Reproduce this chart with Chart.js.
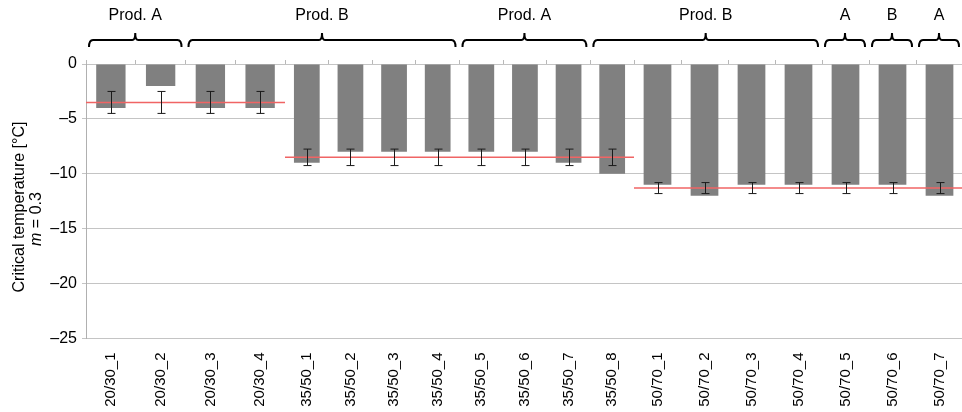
<!DOCTYPE html>
<html>
<head>
<meta charset="utf-8">
<script src="https://cdn.jsdelivr.net/npm/chart.js@4.4.1/dist/chart.umd.min.js"></script>
<style>
html, body { margin: 0; padding: 0; background: #fff; }
#wrap { position: relative; width: 962px; height: 412px; overflow: hidden; }
#wrap canvas { position: absolute; top: 0; }
</style>
</head>
<body>
<div id="wrap">
  <canvas id="p1" width="285" height="412" style="left:0"></canvas>
  <canvas id="p2" width="349" height="412" style="left:285px"></canvas>
  <canvas id="p3" width="329" height="412" style="left:634px"></canvas>
  <canvas id="over" width="962" height="412" style="left:0"></canvas>
</div>
<script>
var FONT = '"Liberation Sans", Arial, sans-serif';

// data
var labels1 = ['20/30_1', '20/30_2', '20/30_3', '20/30_4'];
var labels2 = ['35/50_1', '35/50_2', '35/50_3', '35/50_4', '35/50_5', '35/50_6', '35/50_7', '35/50_8'];
var labels3 = ['50/70_1', '50/70_2', '50/70_3', '50/70_4', '50/70_5', '50/70_6', '50/70_7'];
var values1 = [-4, -2, -4, -4];
var values2 = [-9, -8, -8, -8, -8, -8, -9, -10];
var values3 = [-11, -12, -11, -11, -11, -11, -12];
var groupMean = [-3.5, -8.5, -11.3];
var groupSd = [1, 0.75, 0.5];
var bracketText = ['Prod. A', 'Prod. B', 'Prod. A', 'Prod. B', 'A', 'B', 'A'];
var bracketFrom = ['20/30_1', '20/30_3', '35/50_5', '35/50_8', '50/70_5', '50/70_6', '50/70_7'];
var bracketTo = ['20/30_2', '35/50_4', '35/50_7', '50/70_4', '50/70_5', '50/70_6', '50/70_7'];

// red mean line + error bars per panel
var meanLines = {
  id: 'meanLines',
  afterDatasetsDraw: function (chart, args, opts) {
    var ctx = chart.ctx, a = chart.chartArea, y = chart.scales.y;
    var ym = y.getPixelForValue(opts.mean);
    var hi = y.getPixelForValue(opts.mean + opts.sd);
    var lo = y.getPixelForValue(opts.mean - opts.sd);
    ctx.save();
    ctx.strokeStyle = '#f06464';
    ctx.lineWidth = 1.5;
    ctx.beginPath();
    ctx.moveTo(a.left, ym);
    ctx.lineTo(a.right, ym);
    ctx.stroke();
    ctx.strokeStyle = '#1a1a1a';
    ctx.lineWidth = 1;
    chart.getDatasetMeta(0).data.forEach(function (bar) {
      var x = Math.round(bar.x) + 0.5;
      ctx.beginPath();
      ctx.moveTo(x, hi); ctx.lineTo(x, lo);
      ctx.moveTo(x - 4, hi); ctx.lineTo(x + 4, hi);
      ctx.moveTo(x - 4, lo); ctx.lineTo(x + 4, lo);
      ctx.stroke();
    });
    ctx.restore();
  }
};

function makePanel(id, labels, values, idx, showY) {
  return new Chart(document.getElementById(id), {
    type: 'bar',
    data: {
      labels: labels,
      datasets: [{
        data: values,
        backgroundColor: '#808080',
        barPercentage: 0.59,
        categoryPercentage: 1
      }]
    },
    options: {
      responsive: false,
      animation: false,
      layout: { padding: { top: 60, left: 0, right: 0, bottom: 0 } },
      plugins: {
        legend: { display: false },
        tooltip: { enabled: false },
        meanLines: { mean: groupMean[idx], sd: groupSd[idx] }
      },
      scales: {
        x: {
          offset: true,
          grid: { display: false },
          border: { display: false },
          ticks: {
            autoSkip: false, minRotation: 90, maxRotation: 90, padding: 6,
            color: '#000', font: { family: FONT, size: 15 }
          },
          afterFit: function (s) {
            s.height = 73.5;
            s.paddingLeft = 0;
            s.paddingRight = 0;
          }
        },
        xTop: {
          type: 'category',
          position: 'top',
          labels: labels,
          offset: true,
          grid: { offset: true, drawOnChartArea: false, tickLength: 4, color: '#b8b8b8' },
          border: { display: false },
          ticks: { display: false },
          afterFit: function (s) {
            s.height = 4;
            s.paddingLeft = 0;
            s.paddingRight = 0;
          }
        },
        y: {
          min: -25,
          max: 0,
          grid: { color: '#c4c4c4', drawTicks: showY, tickLength: 4 },
          border: { display: showY, color: '#b0b0b0' },
          ticks: {
            display: showY, stepSize: 5, padding: 5, color: '#000',
            font: { family: FONT, size: 16 },
            callback: function (v) { return v < 0 ? '\u2013' + (-v) : String(v); }
          },
          afterFit: function (s) { s.width = showY ? 86 : 0; }
        }
      }
    },
    plugins: [meanLines]
  });
}

var panels = [
  makePanel('p1', labels1, values1, 0, true),
  makePanel('p2', labels2, values2, 1, false),
  makePanel('p3', labels3, values3, 2, false)
];

// brackets and axis title on an overlay
var ov = document.getElementById('over').getContext('2d');

function catEdges(name) {
  for (var p = 0; p < panels.length; p++) {
    var i = panels[p].data.labels.indexOf(name);
    if (i >= 0) {
      var s = panels[p].scales.x;
      var half = s.width / panels[p].data.labels.length / 2;
      var c = s.getPixelForValue(i) + panels[p].canvas.offsetLeft;
      return [c - half, c + half];
    }
  }
}

function brace(ctx, x0, x1, y) {
  var xm = (x0 + x1) / 2;
  ctx.beginPath();
  ctx.moveTo(x0, y + 7);
  ctx.quadraticCurveTo(x0, y, x0 + 4, y);
  ctx.lineTo(xm - 3, y);
  ctx.quadraticCurveTo(xm, y, xm, y - 7);
  ctx.quadraticCurveTo(xm, y, xm + 3, y);
  ctx.lineTo(x1 - 4, y);
  ctx.quadraticCurveTo(x1, y, x1, y + 7);
  ctx.stroke();
}

ov.strokeStyle = '#000';
ov.lineWidth = 2;
ov.fillStyle = '#000';
ov.font = '16px ' + FONT;
ov.textAlign = 'center';
ov.textBaseline = 'middle';
bracketText.forEach(function (t, k) {
  var x0 = catEdges(bracketFrom[k])[0] + 3;
  var x1 = catEdges(bracketTo[k])[1] - 4;
  brace(ov, x0, x1, 40);
  ov.fillText(t, (x0 + x1) / 2, 16);
});

// y title, two lines, italic m
ov.save();
ov.translate(20, 207);
ov.rotate(-Math.PI / 2);
ov.fillText('Critical temperature [\u00b0C]', 0, 0);
ov.restore();

ov.save();
ov.translate(37, 219);
ov.rotate(-Math.PI / 2);
ov.textAlign = 'left';
ov.font = 'italic 16px ' + FONT;
var wm = ov.measureText('m').width;
ov.font = '16px ' + FONT;
var wr = ov.measureText(' = 0.3').width;
var sx = -(wm + wr) / 2;
ov.font = 'italic 16px ' + FONT;
ov.fillText('m', sx, 0);
ov.font = '16px ' + FONT;
ov.fillText(' = 0.3', sx + wm, 0);
ov.restore();
</script>
</body>
</html>
